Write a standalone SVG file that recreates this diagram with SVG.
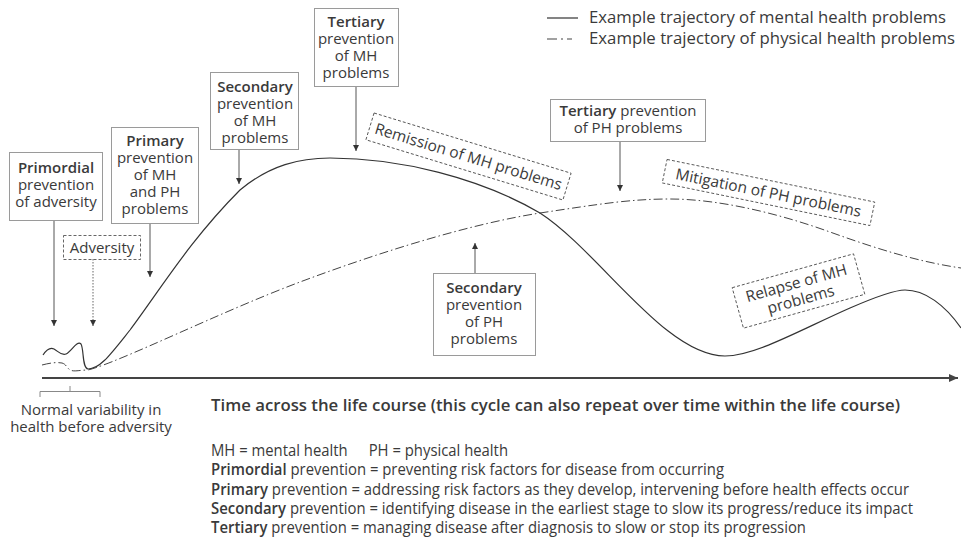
<svg xmlns="http://www.w3.org/2000/svg" width="961" height="541" viewBox="0 0 961 541">
<defs>
<marker id="ah" markerUnits="userSpaceOnUse" markerWidth="7" markerHeight="7" refX="6" refY="3.5" orient="auto"><path d="M0,0.5 L6,3.5 L0,6.5 z" fill="#333"/></marker>
<marker id="axh" markerUnits="userSpaceOnUse" markerWidth="10" markerHeight="10" refX="9" refY="5" orient="auto"><path d="M0,1 L9,5 L0,9 z" fill="#444"/></marker>
<style>
text{font-family:"Open Sans","Noto Sans","DejaVu Sans",sans-serif;fill:#3a3a3a;}
.bx{font-size:15px;text-anchor:middle;}
.b{font-weight:600;}
.box{fill:#fff;stroke:#9a9a9a;stroke-width:1;}
.dbox{fill:none;stroke:#555;stroke-width:0.9;stroke-dasharray:3 2;}
.arr{stroke:#555;stroke-width:1;fill:none;marker-end:url(#ah);}
.mh{fill:none;stroke:#333;stroke-width:1.2;}
.ph{fill:none;stroke:#444;stroke-width:1;stroke-dasharray:9 3 1.5 3;}
.leg{font-size:15.5px;}
.note{font-size:15.5px;}
</style>
</defs>

<g id="curves">
<path class="mh" d="M43,355 C47,349 50,347 54,349 C58,351 61,356 66,354 C71,352 77,340 81,344 C84,349 82,368 88,369 C100,369 110,355 130,330 C160,290 190,240 240,190 C270,165 300,158 330,158 C400,158 480,178 540,213 C600,252 665,356 725,356 C755,356 800,330 850,308 C880,295 895,290 905,290 C925,290 945,305 961,328"/>
<path class="ph" d="M42,365 C50,363 56,362 62,363 C66,364 67,368 70,370 C74,372 80,370 88,370 C120,362 220,312 300,282 C380,252 470,224 540,213 C600,204 630,199 670,199 C720,199 780,214 830,232 C880,250 920,262 961,268"/>
</g>

<g id="axis">
<line x1="42" y1="378" x2="958" y2="378" stroke="#444" stroke-width="2" marker-end="url(#axh)"/>
<path d="M40,397 V391.5 H100 V397 M70,391.5 V386" fill="none" stroke="#888" stroke-width="1"/>
<text class="bx" x="91" y="415">Normal variability in</text>
<text class="bx" x="91" y="432">health before adversity</text>
<text x="211" y="411" font-size="16" font-weight="600" textLength="689" lengthAdjust="spacingAndGlyphs">Time across the life course (this cycle can also repeat over time within the life course)</text>
</g>

<g id="legend">
<line x1="547" y1="18" x2="578" y2="18" stroke="#333" stroke-width="1.2"/>
<line x1="547" y1="39" x2="578" y2="39" stroke="#444" stroke-width="1.2" stroke-dasharray="10 4 2 4 5 100"/>
<text class="leg" x="589" y="23" textLength="357" lengthAdjust="spacingAndGlyphs">Example trajectory of mental health problems</text>
<text class="leg" x="589" y="44" textLength="366" lengthAdjust="spacingAndGlyphs">Example trajectory of physical health problems</text>
</g>

<g id="connectors">
<line class="arr" x1="54" y1="220" x2="54" y2="326"/>
<line x1="93" y1="259" x2="93" y2="326" stroke="#666" stroke-width="1" stroke-dasharray="1.5 1.5" marker-end="url(#ah)"/>
<line class="arr" x1="150" y1="224" x2="150" y2="277"/>
<line class="arr" x1="239" y1="150" x2="239" y2="184"/>
<line class="arr" x1="356" y1="87" x2="356" y2="151"/>
<line class="arr" x1="620" y1="141" x2="620" y2="191"/>
<line class="arr" x1="475" y1="273" x2="475" y2="243"/>
</g>

<g id="primordial">
<rect class="box" x="9.5" y="152.5" width="93" height="68"/>
<text class="bx"><tspan class="b" x="56" y="173">Primordial</tspan><tspan x="56" y="190">prevention</tspan><tspan x="56" y="207">of adversity</tspan></text>
</g>

<g id="adversity">
<rect class="dbox" x="63.5" y="235.5" width="77" height="24"/>
<text class="bx" x="102" y="253">Adversity</text>
</g>

<g id="primary">
<rect class="box" x="111.5" y="127.5" width="87" height="96"/>
<text class="bx"><tspan class="b" x="155" y="146">Primary</tspan><tspan x="155" y="163">prevention</tspan><tspan x="155" y="180">of MH</tspan><tspan x="155" y="197">and PH</tspan><tspan x="155" y="214">problems</tspan></text>
</g>

<g id="secondary-mh">
<rect class="box" x="210.5" y="72.5" width="88" height="77"/>
<text class="bx"><tspan class="b" x="255" y="92">Secondary</tspan><tspan x="255" y="109">prevention</tspan><tspan x="255" y="126">of MH</tspan><tspan x="255" y="143">problems</tspan></text>
</g>

<g id="tertiary-mh">
<rect class="box" x="314.5" y="8.5" width="84" height="78"/>
<text class="bx"><tspan class="b" x="356" y="27">Tertiary</tspan><tspan x="356" y="44">prevention</tspan><tspan x="356" y="61">of MH</tspan><tspan x="356" y="78">problems</tspan></text>
</g>

<g id="remission" transform="translate(468.5,156.5) rotate(17)">
<rect class="dbox" x="-103" y="-14" width="206" height="28"/>
<text class="bx" style="font-size:15.5px" x="0" y="5.5">Remission of MH problems</text>
</g>

<g id="tertiary-ph">
<rect class="box" x="550.5" y="99.5" width="155" height="42"/>
<text class="bx"><tspan x="628" y="116"><tspan class="b">Tertiary</tspan> prevention</tspan><tspan x="628" y="133">of PH problems</tspan></text>
</g>

<g id="secondary-ph">
<rect class="box" x="433.5" y="273.5" width="102" height="82"/>
<text class="bx"><tspan class="b" x="484" y="293">Secondary</tspan><tspan x="484" y="310">prevention</tspan><tspan x="484" y="327">of PH</tspan><tspan x="484" y="344">problems</tspan></text>
</g>

<g id="mitigation" transform="translate(768.5,192.5) rotate(11.6)">
<rect class="dbox" x="-106" y="-12" width="212" height="24"/>
<text class="bx" style="font-size:15.5px" x="0" y="5.5">Mitigation of PH problems</text>
</g>

<g id="relapse" transform="translate(798.5,291) rotate(-15.6)">
<rect class="dbox" x="-63" y="-21" width="126" height="42"/>
<text class="bx" style="font-size:15.5px"><tspan x="0" y="-3">Relapse of MH</tspan><tspan x="0" y="14">problems</tspan></text>
</g>

<g id="notes">
<text class="note" x="211" y="456" textLength="297" lengthAdjust="spacingAndGlyphs">MH = mental health<tspan dx="22">PH = physical health</tspan></text>
<text class="note" x="211" y="475" textLength="513" lengthAdjust="spacingAndGlyphs"><tspan class="b">Primordial</tspan> prevention = preventing risk factors for disease from occurring</text>
<text class="note" x="211" y="495" textLength="698" lengthAdjust="spacingAndGlyphs"><tspan class="b">Primary</tspan> prevention = addressing risk factors as they develop, intervening before health effects occur</text>
<text class="note" x="211" y="514" textLength="702" lengthAdjust="spacingAndGlyphs"><tspan class="b">Secondary</tspan> prevention = identifying disease in the earliest stage to slow its progress/reduce its impact</text>
<text class="note" x="211" y="533" textLength="595" lengthAdjust="spacingAndGlyphs"><tspan class="b">Tertiary</tspan> prevention = managing disease after diagnosis to slow or stop its progression</text>
</g>
</svg>
